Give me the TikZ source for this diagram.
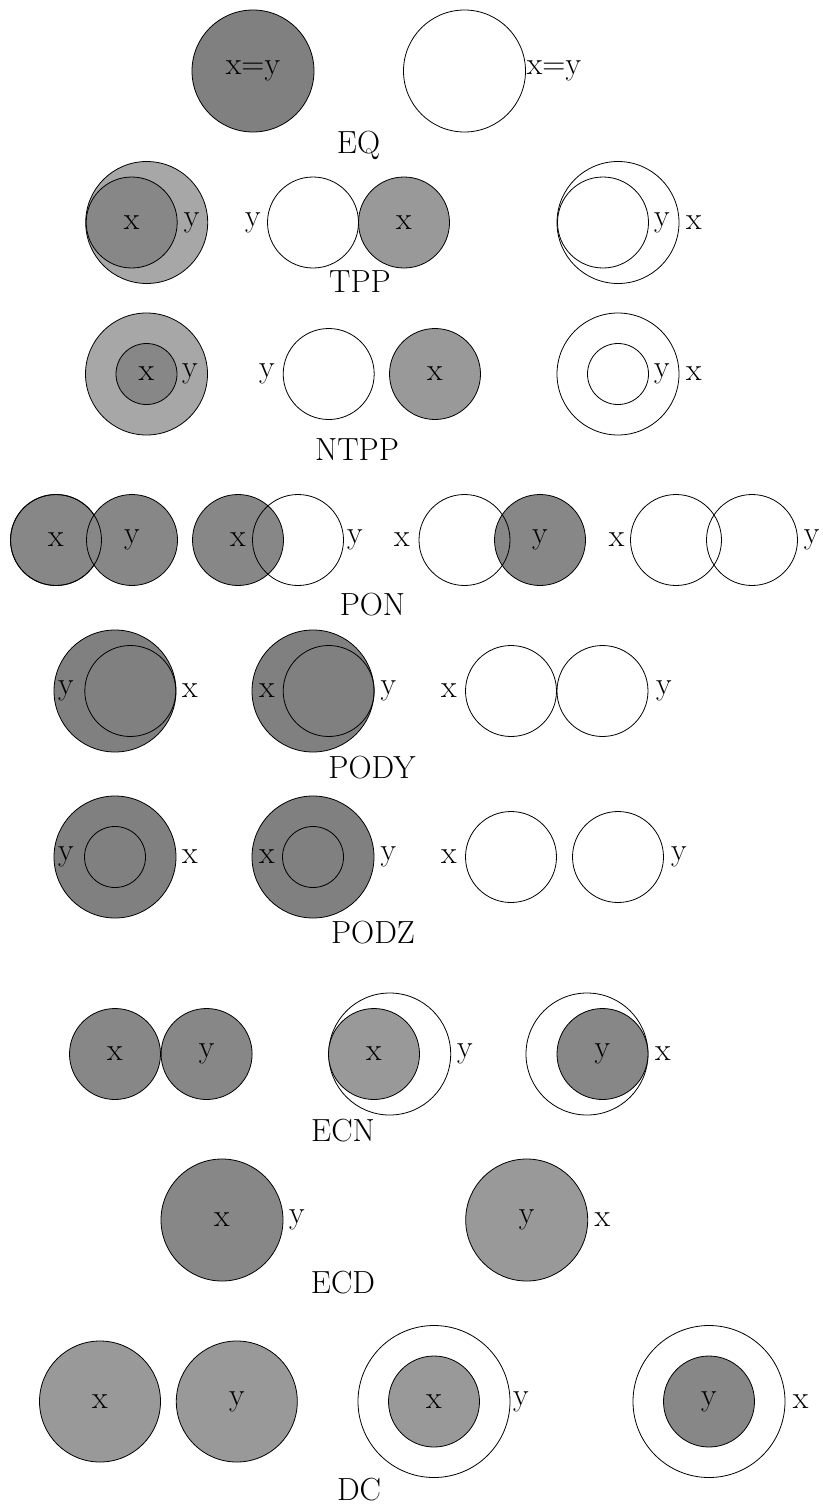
\documentclass[tikz,border=0pt]{standalone}
\usepackage{tikz}
\definecolor{fillpale}{gray}{0.655}
\definecolor{filllight}{gray}{0.6}
\definecolor{fillmid}{gray}{0.53}
\definecolor{filldark}{gray}{0.5}

\begin{document}
\begin{tikzpicture}[x=1pt, y=-1pt, every node/.style={font=\fontsize{32}{38}\selectfont},
            region/.style={circle, draw, line width=0.8pt, inner sep=0pt},
            huge/.style={region, minimum size=152pt},
            big/.style={region, minimum size=122pt},
            mid/.style={region, minimum size=91pt},
            small/.style={region, minimum size=61pt}]
            \useasboundingbox (0,0) rectangle (822,1510);
            \node[big, fill=filldark] (eqx) at (253,71) {x=y};
            \node[big] (eqy) at (464.5,71) {};
            \node (eqlab) at (554,71) {x=y};
            \node (eqname) at (358.5,145) {EQ};
            \node[big, fill=fillpale] (tppy1) at (146.7,222.5) {};
            \node[mid, fill=fillmid] (tppx1) at (131.7,222.5) {x};
            \node (tppy1l) at (191.7,222.5) {y};
            \node[mid] (tppy2) at (313,222.5) {};
            \node[mid, fill=filllight] (tppx2) at (404,222.5) {x};
            \node (tppy2l) at (253,222.5) {y};
            \node[big] (tppx3) at (618,222.5) {};
            \node[mid] (tppy3) at (603,222.5) {};
            \node (tppy3l) at (662,222.5) {y};
            \node (tppx3l) at (694,222.5) {x};
            \node (tppname) at (360,282) {TPP};
            \node[big, fill=fillpale] (ntppy1) at (146.5,374) {};
            \node[small, fill=fillmid] (ntppx1) at (146.5,374) {x};
            \node (ntppy1l) at (190,374) {y};
            \node[mid] (ntppy2) at (328.7,374) {};
            \node[mid, fill=filllight] (ntppx2) at (435,374) {x};
            \node (ntppy2l) at (267,374) {y};
            \node[big] (ntppx3) at (618,374) {};
            \node[small] (ntppy3) at (618,374) {};
            \node (ntppy3l) at (662,374) {y};
            \node (ntppx3l) at (694,374) {x};
            \node (ntppname) at (357,450) {NTPP};
            \node[mid, fill=fillmid] (ponx1) at (56,540) {x};
            \node[mid, fill=fillmid] (pony1) at (132,540) {y};
            \node[mid] (ponx1o) at (ponx1) {};
            \node[mid, fill=fillmid] (ponx2) at (238,540) {x};
            \node[mid] (pony2) at (298,540) {};
            \node (pony2l) at (355,540) {y};
            \node[mid, fill=fillmid] (pony3) at (540,540) {y};
            \node[mid] (ponx3) at (464.5,540) {};
            \node (ponx3l) at (402,540) {x};
            \node[mid] (ponx4) at (676,540) {};
            \node[mid] (pony4) at (752,540) {};
            \node (ponx4l) at (616.7,540) {x};
            \node (pony4l) at (811.7,540) {y};
            \node (ponname) at (372.5,605) {PON};
            \node[big, fill=filldark] (podyy1) at (115,691) {};
            \node[mid] (podyx1) at (130.3,691) {};
            \node (podyy1l) at (66,691) {y};
            \node (podyx1l) at (190,691) {x};
            \node[big, fill=filldark] (podyx2) at (313,691) {};
            \node[mid] (podyy2) at (328.7,691) {};
            \node (podyx2l) at (267,691) {x};
            \node (podyy2l) at (388.5,691) {y};
            \node[mid] (podyx3) at (511,691) {};
            \node[mid] (podyy3) at (602.5,691) {};
            \node (podyx3l) at (449,691) {x};
            \node (podyy3l) at (664,691) {y};
            \node (podyname) at (372,768) {PODY};
            \node[big, fill=filldark] (podzy1) at (115,857) {};
            \node[small] (podzx1) at (115,857) {};
            \node (podzy1l) at (66,857) {y};
            \node (podzx1l) at (190,857) {x};
            \node[big, fill=filldark] (podzx2) at (313,857) {};
            \node[small] (podzy2) at (313,857) {};
            \node (podzx2l) at (267,857) {x};
            \node (podzy2l) at (388.5,857) {y};
            \node[mid] (podzx3) at (511,857) {};
            \node[mid] (podzy3) at (618,857) {};
            \node (podzx3l) at (449,857) {x};
            \node (podzy3l) at (679,857) {y};
            \node (podzname) at (373,933) {PODZ};
            \node[mid, fill=fillmid] (ecnx1) at (115,1054) {x};
            \node[mid, fill=fillmid] (ecny1) at (206.6,1054) {y};
            \node[big] (ecny2) at (389.7,1054) {};
            \node[mid, fill=filllight] (ecnx2) at (374,1054) {x};
            \node (ecny2l) at (465,1054) {y};
            \node[big] (ecnx3) at (587,1054) {};
            \node[mid, fill=fillmid] (ecny3) at (602.5,1054) {y};
            \node (ecnx3l) at (663,1054) {x};
            \node (ecnname) at (343,1131) {ECN};
            \node[big, fill=fillmid] (ecdx1) at (222,1220) {x};
            \node (ecdy1l) at (297,1220) {y};
            \node[big, fill=filllight] (ecdy2) at (526.7,1220) {y};
            \node (ecdx2l) at (602.5,1220) {x};
            \node (ecdname) at (343,1283) {ECD};
            \node[region, minimum size=121pt, fill=filllight] (dcx1) at (100,1401.5) {x};
            \node[region, minimum size=121pt, fill=filllight] (dcy1) at (236.8,1401.5) {y};
            \node[huge] (dcy2) at (434,1401.5) {};
            \node[mid, fill=filllight] (dcx2) at (434,1401.5) {x};
            \node (dcy2l) at (521,1401.5) {y};
            \node[huge] (dcx3) at (709,1401.5) {};
            \node[mid, fill=fillmid] (dcy3) at (709,1401.5) {y};
            \node (dcx3l) at (800.7,1401.5) {x};
            \node (dcname) at (359,1490) {DC};
        \end{tikzpicture}
\end{document}
